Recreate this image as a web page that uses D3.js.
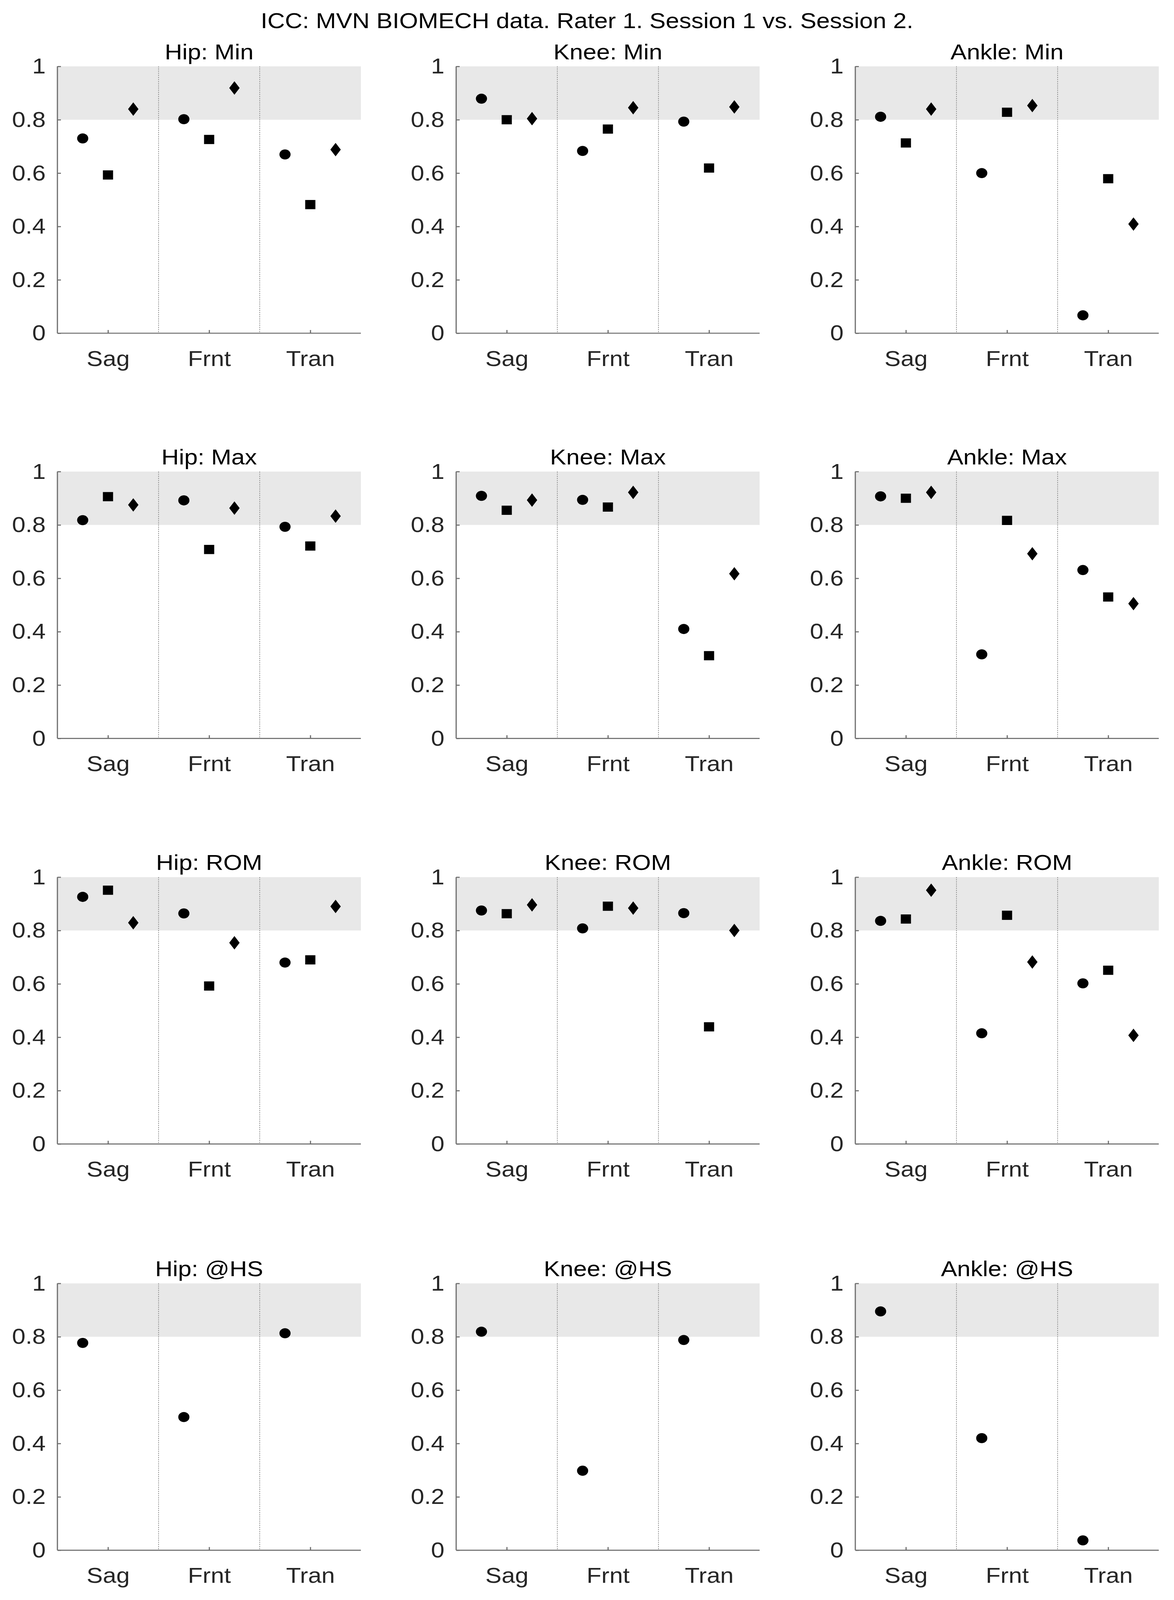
<!DOCTYPE html>
<html>
<head>
<meta charset="utf-8">
<script src="https://cdn.jsdelivr.net/npm/d3@7"></script>
<style>
    html, body { margin: 0; padding: 0; background: #fff; overflow: hidden; }
    svg { display: block; font-family: "Liberation Sans", Arial, sans-serif; }
</style>
</head>
<body>
<svg id="chart"></svg>
<script>
const planes = ["Sag", "Frnt", "Tran"];
const joints = ["Hip", "Knee", "Ankle"];
const measures = ["Min", "Max", "ROM", "@HS"];
const yTicks = [0, 0.2, 0.4, 0.6, 0.8, 1];

// [measure][joint][plane]
const circleVals = [
    [[0.730, 0.802, 0.670], [0.879, 0.683, 0.793], [0.811, 0.600, 0.067]],
    [[0.818, 0.892, 0.793], [0.909, 0.894, 0.410], [0.907, 0.315, 0.631]],
    [[0.926, 0.864, 0.680], [0.875, 0.808, 0.865], [0.836, 0.415, 0.602]],
    [[0.777, 0.499, 0.813], [0.819, 0.298, 0.788], [0.895, 0.420, 0.037]]
];
const squareVals = [
    [[0.593, 0.726, 0.482], [0.800, 0.765, 0.619], [0.713, 0.828, 0.579]],
    [[0.906, 0.708, 0.721], [0.855, 0.867, 0.310], [0.900, 0.817, 0.530]],
    [[0.951, 0.592, 0.690], [0.863, 0.891, 0.439], [0.843, 0.857, 0.651]],
    null
];
const diamondVals = [
    [[0.840, 0.919, 0.688], [0.804, 0.845, 0.848], [0.840, 0.853, 0.409]],
    [[0.875, 0.863, 0.833], [0.893, 0.922, 0.617], [0.922, 0.692, 0.505]],
    [[0.829, 0.754, 0.890], [0.896, 0.884, 0.800], [0.951, 0.682, 0.407]],
    null
];

const bandLow = 0.8;
const bandHigh = 1;

// drawing is laid out on a 3006x4533 canvas and stretched to the window
const W = 3006, H = 4533;
const colLeft = [147, 1168, 2190];
const rowTop = [188, 1336, 2485, 3636];
const pw = 777, ph = 756;
const fontSize = 62;

const vw = window.innerWidth || W;
const vh = window.innerHeight || H;

const svg = d3.select("#chart")
    .attr("width", vw)
    .attr("height", vh)
    .attr("viewBox", `0 0 ${W} ${H}`)
    .attr("preserveAspectRatio", "none");

svg.append("rect").attr("width", W).attr("height", H).attr("fill", "#fff");

svg.append("text")
    .attr("x", W / 2)
    .attr("y", 80)
    .attr("text-anchor", "middle")
    .attr("font-size", fontSize)
    .attr("fill", "#000")
    .text("ICC: MVN BIOMECH data. Rater 1. Session 1 vs. Session 2.");

const x = d3.scaleLinear().domain([0.5, 3.5]).range([0, pw]);
const y = d3.scaleLinear().domain([0, 1]).range([ph, 0]);

// matlab style diamond, taller than wide
const diamond = {
    draw(ctx, size) {
        const h = Math.sqrt(size) * 0.72, w = h * 0.7;
        ctx.moveTo(0, -h);
        ctx.lineTo(w, 0);
        ctx.lineTo(0, h);
        ctx.lineTo(-w, 0);
        ctx.closePath();
    }
};

const markers = [
    { vals: circleVals, offset: -0.25, shape: d3.symbol(d3.symbolCircle, 640) },
    { vals: squareVals, offset: 0, shape: d3.symbol(d3.symbolSquare, 680) },
    { vals: diamondVals, offset: 0.25, shape: d3.symbol(diamond, 700) }
];

measures.forEach((m, mi) => {
    joints.forEach((j, ji) => {
        const g = svg.append("g")
            .attr("transform", `translate(${colLeft[ji]},${rowTop[mi]})`);

        g.append("rect")
            .attr("x", 0)
            .attr("y", y(bandHigh))
            .attr("width", pw)
            .attr("height", y(bandLow) - y(bandHigh))
            .attr("fill", "#e8e8e8");

        g.selectAll(".sep")
            .data([1.5, 2.5])
            .enter().append("line")
            .attr("x1", d => x(d))
            .attr("x2", d => x(d))
            .attr("y1", 0)
            .attr("y2", ph)
            .attr("stroke", "#8c8c8c")
            .attr("stroke-width", 2)
            .attr("stroke-dasharray", "3,3");

        const yAxis = g.append("g")
            .call(d3.axisLeft(y).tickValues(yTicks).tickSize(-9).tickPadding(30).tickFormat(d3.format("")));
        const xAxis = g.append("g")
            .attr("transform", `translate(0,${ph})`)
            .call(d3.axisBottom(x).tickValues([1, 2, 3]).tickSize(-9).tickPadding(48)
                .tickFormat(d => planes[d - 1]));

        [yAxis, xAxis].forEach(a => {
            a.select(".domain").attr("stroke", "#6e6e6e").attr("stroke-width", 3);
            a.selectAll(".tick line").attr("stroke", "#6e6e6e").attr("stroke-width", 3);
            a.selectAll(".tick text")
                .attr("font-size", fontSize)
                .attr("font-family", "Liberation Sans, Arial, sans-serif")
                .attr("fill", "#262626");
        });
        yAxis.select(".domain").attr("d", `M0,${ph}V0`);
        xAxis.select(".domain").attr("d", `M0,0H${pw}`);
        xAxis.selectAll(".tick text").attr("dy", "0.72em");

        g.append("text")
            .attr("x", pw / 2)
            .attr("y", -20)
            .attr("text-anchor", "middle")
            .attr("font-size", fontSize)
            .attr("fill", "#000")
            .text(`${j}: ${m}`);

        markers.forEach(mk => {
            const row = mk.vals && mk.vals[mi];
            if (!row) return;
            g.selectAll(null)
                .data(row[ji])
                .enter().append("path")
                .attr("transform", (d, i) => `translate(${x(i + 1 + mk.offset)},${y(d)})`)
                .attr("d", mk.shape)
                .attr("fill", "#000");
        });
    });
});
</script>
</body>
</html>
